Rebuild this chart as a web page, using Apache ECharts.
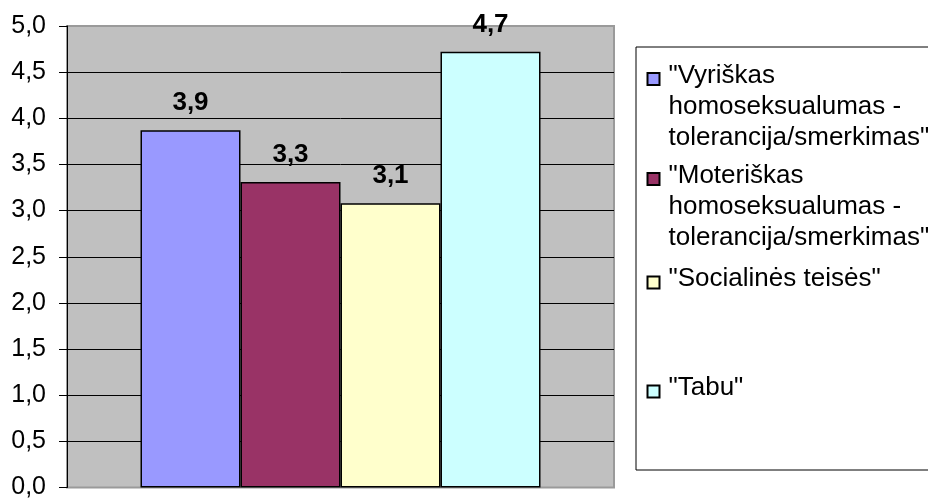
<!DOCTYPE html>
<html>
<head>
<meta charset="utf-8">
<script src="https://cdn.jsdelivr.net/npm/echarts@6/dist/echarts.min.js"></script>
<style>
html,body{margin:0;padding:0;background:#fff;}
#chart{width:928px;height:500px;}
</style>
</head>
<body>
<div id="chart"></div>
<script>
// ---- data ----
const categories = [''];
const seriesNames = [
  '"Vyriškas homoseksualumas - tolerancija/smerkimas"',
  '"Moteriškas homoseksualumas - tolerancija/smerkimas"',
  '"Socialinės teisės"',
  '"Tabu"'
];
const legendLines = [
  ['"Vyriškas', 'homoseksualumas -', 'tolerancija/smerkimas"'],
  ['"Moteriškas', 'homoseksualumas -', 'tolerancija/smerkimas"'],
  ['"Socialinės teisės"'],
  ['"Tabu"']
];
const vyriskas = [3.87];
const moteriskas = [3.31];
const socialines = [3.08];
const tabu = [4.72];
const seriesValues = [vyriskas, moteriskas, socialines, tabu];
const yTicks = [0, 0.5, 1, 1.5, 2, 2.5, 3, 3.5, 4, 4.5, 5];

// ---- styles ----
const colors = ['#9999FF', '#993366', '#FFFFCC', '#CCFFFF'];
const FONT = '"Liberation Sans", Arial, sans-serif';
const fmt = v => Number(v).toFixed(1).replace('.', ',');

const series = seriesNames.map((name, i) => ({
  name: name,
  type: 'bar',
  data: seriesValues[i],
  barWidth: 100,
  barGap: '0%',
  itemStyle: { color: colors[i], borderColor: '#000', borderWidth: 1.5 },
  label: {
    show: true,
    position: 'top',
    distance: 14,
    formatter: p => fmt(p.value),
    fontFamily: FONT,
    fontSize: 26,
    fontWeight: 'bold',
    color: '#000'
  },
  emphasis: { disabled: true }
}));

const legendTops = [27.5, 127.5, 265.5, 374.5];
const legends = seriesNames.map((name, i) => {
  const lines = legendLines[i];
  const multi = lines.length > 1;
  return {
    data: [name],
    left: 646.5,
    top: legendTops[i],
    padding: 0,
    itemWidth: 12,
    itemHeight: 12,
    icon: 'rect',
    selectedMode: false,
    formatter: () => {
      const body = lines.map(l => '{t|' + l + '}').join('\n');
      return multi ? '{lead| }\n' + body : body + '\n{tail| }';
    },
    textStyle: {
      fontFamily: FONT,
      fontSize: 26,
      color: '#000',
      rich: {
        t: { fontFamily: FONT, fontSize: 26, lineHeight: 31, color: '#000', padding: [0, 0, 0, 4] },
        lead: { fontSize: 10, lineHeight: 56 },
        tail: { fontSize: 10, lineHeight: 8 }
      }
    }
  };
});

const chart = echarts.init(document.getElementById('chart'), null, { renderer: 'canvas' });
chart.setOption({
  animation: false,
  backgroundColor: '#fff',
  graphic: [{
    type: 'rect',
    z: 0,
    shape: { x: 636, y: 47, width: 400, height: 423 },
    style: { fill: '#fff', stroke: '#000', lineWidth: 1 }
  }],
  grid: {
    left: 67, top: 26, right: 314, bottom: 10,
    show: true,
    backgroundColor: '#C0C0C0',
    borderColor: '#9a9a9a',
    borderWidth: 2
  },
  legend: legends,
  xAxis: {
    type: 'category',
    data: categories,
    axisLine: { show: false },
    axisTick: { show: false },
    axisLabel: { show: false }
  },
  yAxis: {
    type: 'value',
    min: yTicks[0],
    max: yTicks[yTicks.length - 1],
    interval: 0.5,
    axisLine: { show: true, lineStyle: { color: '#000', width: 1 } },
    axisTick: { show: true, length: 8, lineStyle: { color: '#000', width: 1 } },
    axisLabel: {
      margin: 21,
      formatter: v => fmt(v),
      fontFamily: FONT,
      fontSize: 25,
      color: '#000'
    },
    splitLine: {
      show: true,
      showMinLine: false,
      showMaxLine: false,
      lineStyle: { color: '#000', width: 1 }
    }
  },
  series: series
});
</script>
</body>
</html>
